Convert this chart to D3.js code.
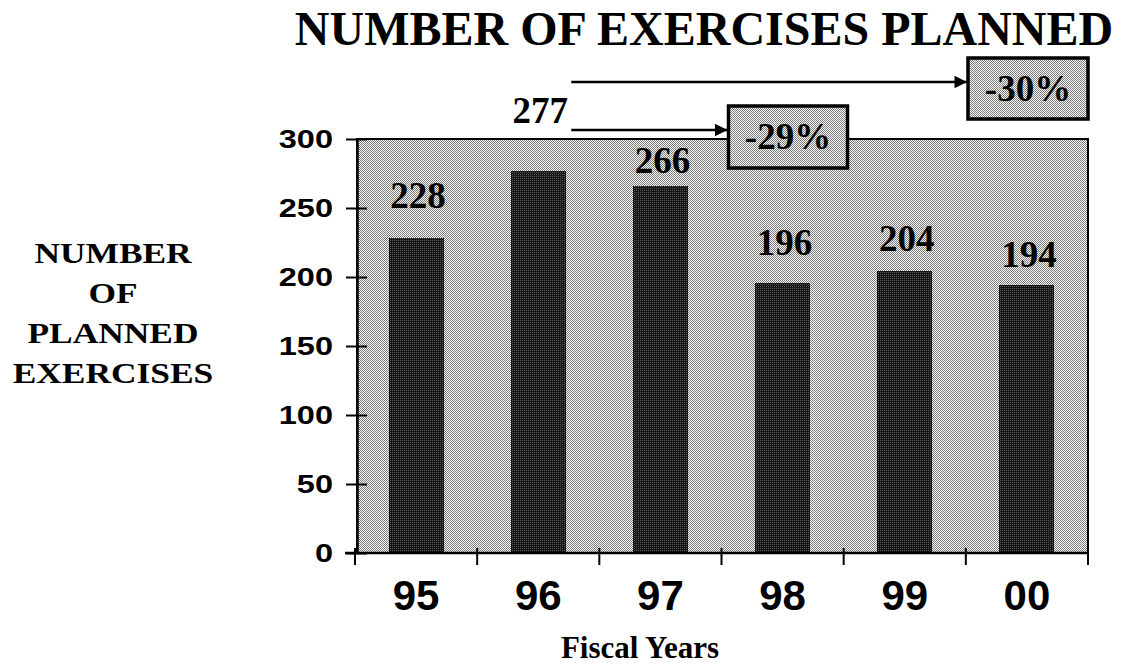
<!DOCTYPE html>
<html lang="en">
  <head>
    <meta charset="UTF-8" />
    <title>Number of Exercises Planned</title>
    <style>
      body { margin: 0; background: #fff; }
      svg { display: block; }
      .serif { font-family: "Liberation Serif", "Times New Roman", serif; font-weight: bold; }
      .sans { font-family: "Liberation Sans", Arial, sans-serif; font-weight: bold; }
    </style>
  </head>
  <body>
    <script src="https://cdn.jsdelivr.net/npm/d3@7"></script>
    <script>

    // data
    var years = ["95", "96", "97", "98", "99", "00"];
    var planned = [228, 277, 266, 196, 204, 194];
    var yTicks = [0, 50, 100, 150, 200, 250, 300];
    var yTitleLines = ["NUMBER", "OF", "PLANNED", "EXERCISES"];
    var changeLabels = ["-29%", "-30%"];

    // how far each value label sits above its bar
    var labelGap = [30, 48, 13, 28, 20, 18];

    var w = 1124,
        h = 665;

    var svg = d3.select("body").append("svg")
      .attr("width", w)
      .attr("height", h);

    // dithered fills like the scanned print
    var defs = svg.append("defs");

    var bg = defs.append("pattern")
      .attr("id", "bgDots")
      .attr("patternUnits", "userSpaceOnUse")
      .attr("width", 2)
      .attr("height", 2);
    bg.append("rect").attr("width", 2).attr("height", 2).attr("fill", "#fafafa");
    bg.append("rect").attr("width", 1).attr("height", 1).attr("fill", "#7c7c7c");
    bg.append("rect").attr("x", 1).attr("y", 1).attr("width", 1).attr("height", 1).attr("fill", "#7c7c7c");

    var dark = defs.append("pattern")
      .attr("id", "barDots")
      .attr("patternUnits", "userSpaceOnUse")
      .attr("width", 2)
      .attr("height", 2);
    dark.append("rect").attr("width", 2).attr("height", 2).attr("fill", "#141414");
    dark.append("rect").attr("width", 1).attr("height", 1).attr("fill", "#585858");

    var xScale = d3.scaleBand()
      .domain(years)
      .range([355, 1088])
      .paddingInner(0.55)
      .paddingOuter(0.275);

    var yScale = d3.scaleLinear()
      .domain([0, 300])
      .range([553, 139]);

    // plot background and frame
    svg.append("rect")
      .attr("x", 357)
      .attr("y", yScale(300))
      .attr("width", 1088 - 357)
      .attr("height", yScale(0) - yScale(300))
      .attr("fill", "url(#bgDots)")
      .attr("stroke", "#000")
      .attr("stroke-width", 2.5)
      .attr("shape-rendering", "crispEdges");

    // bars
    svg.selectAll(".bar")
      .data(planned)
      .enter()
      .append("rect")
      .attr("class", "bar")
      .attr("x", function(d, i) { return xScale(years[i]); })
      .attr("y", function(d) { return yScale(d); })
      .attr("width", xScale.bandwidth())
      .attr("height", function(d) { return yScale(0) - yScale(d); })
      .attr("fill", "url(#barDots)")
      .attr("shape-rendering", "crispEdges");

    // value labels
    svg.selectAll(".val")
      .data(planned)
      .enter()
      .append("text")
      .attr("class", "val serif")
      .attr("x", function(d, i) { return xScale(years[i]) + xScale.bandwidth() / 2 + 2; })
      .attr("y", function(d, i) { return yScale(d) - labelGap[i]; })
      .attr("text-anchor", "middle")
      .attr("font-size", 37)
      .text(function(d) { return d; });

    // y axis
    var yAxis = d3.axisLeft(yScale)
      .tickValues(yTicks)
      .tickSize(11)
      .tickSizeOuter(0)
      .tickPadding(13);

    var yg = svg.append("g")
      .attr("transform", "translate(357,0)")
      .call(yAxis);
    yg.select(".domain").attr("stroke-width", 2.5);
    yg.selectAll(".tick line").attr("x1", 10).attr("stroke-width", 2);
    // labels in the scan are wide, so stretch them sideways
    yg.selectAll(".tick text")
      .attr("class", "sans")
      .attr("font-size", 25)
      .attr("fill", "#000")
      .attr("x", -24 / 1.3)
      .attr("transform", "scale(1.3,1)");

    // x axis: labels under bands, ticks on band edges
    var xAxis = d3.axisBottom(xScale)
      .tickSize(0)
      .tickPadding(27);

    var xg = svg.append("g")
      .attr("transform", "translate(0," + yScale(0) + ")")
      .call(xAxis);
    xg.select(".domain").remove();
    xg.selectAll(".tick text")
      .attr("class", "sans")
      .attr("font-size", 42)
      .attr("fill", "#000");

    svg.append("line")
      .attr("x1", 345)
      .attr("x2", 1088)
      .attr("y1", yScale(0))
      .attr("y2", yScale(0))
      .attr("stroke", "#000")
      .attr("stroke-width", 2.5);

    var gap = xScale.step() - xScale.bandwidth();
    var edges = years.map(function(d) { return xScale(d) - gap / 2; });
    edges.push(xScale.range()[1]);

    svg.selectAll(".xtick")
      .data(edges)
      .enter()
      .append("line")
      .attr("class", "xtick")
      .attr("x1", function(d) { return d; })
      .attr("x2", function(d) { return d; })
      .attr("y1", yScale(0) - 5)
      .attr("y2", yScale(0) + 12)
      .attr("stroke", "#000")
      .attr("stroke-width", 2);

    // titles
    svg.append("text")
      .attr("class", "serif")
      .attr("x", 704)
      .attr("y", 45)
      .attr("text-anchor", "middle")
      .attr("font-size", 48)
      .text("NUMBER OF EXERCISES PLANNED");

    svg.append("text")
      .attr("class", "serif")
      .attr("x", 640)
      .attr("y", 658)
      .attr("text-anchor", "middle")
      .attr("font-size", 31)
      .text("Fiscal Years");

    var yTitle = svg.append("g")
      .attr("transform", "translate(113,0) scale(1.18,1)");
    yTitle.selectAll("text")
      .data(yTitleLines)
      .enter()
      .append("text")
      .attr("class", "serif")
      .attr("x", 0)
      .attr("y", function(d, i) { return 263 + i * 40; })
      .attr("text-anchor", "middle")
      .attr("font-size", 30)
      .text(function(d) { return d; });

    // change annotations: arrows from the 277 peak to boxed percentages
    svg.append("defs").append("marker")
      .attr("id", "head")
      .attr("viewBox", "0 0 10 10")
      .attr("refX", 10)
      .attr("refY", 5)
      .attr("markerWidth", 6)
      .attr("markerHeight", 5)
      .attr("markerUnits", "strokeWidth")
      .attr("orient", "auto")
      .append("path")
      .attr("d", "M0,0 L10,5 L0,10 z")
      .attr("fill", "#000");

    var arrowStart = xScale("96") + xScale.bandwidth() / 2 + 33;
    var notes = [
      { text: changeLabels[0], y: 130, left: edges[3] + 7, right: edges[3] + 126, top: 106, bottom: 168 },
      { text: changeLabels[1], y: 82, left: edges[6] - 120, right: edges[6], top: 58, bottom: 119 }
    ];

    notes.forEach(function(n) {
      svg.append("line")
        .attr("x1", arrowStart)
        .attr("x2", n.left - 1)
        .attr("y1", n.y)
        .attr("y2", n.y)
        .attr("stroke", "#000")
        .attr("stroke-width", 2.5)
        .attr("marker-end", "url(#head)");

      svg.append("rect")
        .attr("x", n.left)
        .attr("y", n.top)
        .attr("width", n.right - n.left)
        .attr("height", n.bottom - n.top)
        .attr("fill", "url(#bgDots)")
        .attr("stroke", "#000")
        .attr("stroke-width", 3.5);

      svg.append("text")
        .attr("class", "serif")
        .attr("x", (n.left + n.right) / 2)
        .attr("y", (n.top + n.bottom) / 2 + 12)
        .attr("text-anchor", "middle")
        .attr("font-size", 37)
        .text(n.text);
    });

    </script>
  </body>
</html>
